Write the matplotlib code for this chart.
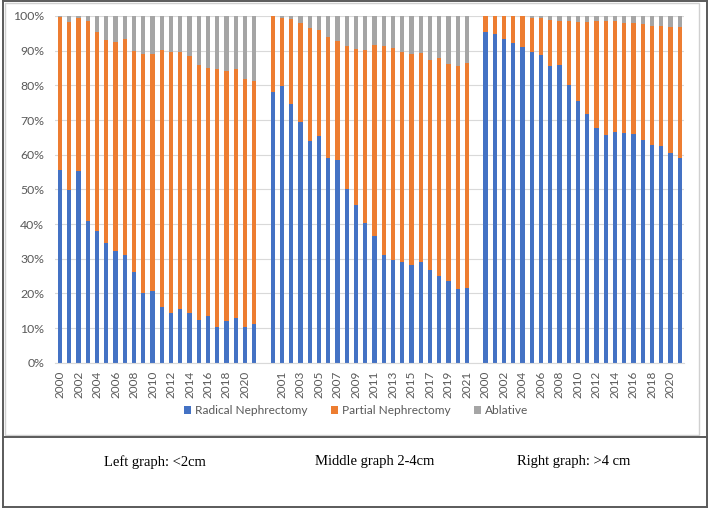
import matplotlib
matplotlib.use("Agg")
import matplotlib.pyplot as plt
from matplotlib.lines import Line2D
from matplotlib.patches import Rectangle
import numpy as np

years = [str(y) for y in range(2000, 2022)]

# left graph (<2cm)
left_radical = [55.6, 49.8, 55.3, 41.0, 37.9, 34.4, 32.2, 31.1, 26.3, 20.1, 20.6,
                16.2, 14.3, 15.6, 14.3, 12.2, 13.5, 10.2, 11.9, 12.8, 10.4, 11.1]
left_partial = [44.0, 48.5, 44.2, 57.5, 57.6, 58.8, 60.3, 62.3, 63.5, 68.9, 68.4,
                73.9, 75.4, 74.0, 74.2, 73.6, 71.5, 74.4, 72.1, 72.0, 71.4, 70.2]
left_ablative = [0.4, 1.7, 0.5, 1.5, 4.5, 6.8, 7.5, 6.6, 10.2, 11.0, 11.0,
                 9.9, 10.3, 10.4, 11.5, 14.2, 15.0, 15.4, 16.0, 15.2, 18.2, 18.7]

# middle graph (2-4cm)
mid_radical = [78.1, 79.8, 74.6, 69.4, 64.0, 65.3, 59.0, 58.5, 50.0, 45.6, 40.3,
               36.5, 31.1, 29.7, 29.0, 28.1, 29.0, 26.8, 25.1, 23.6, 21.4, 21.5]
mid_partial = [21.9, 19.5, 24.4, 28.5, 32.4, 30.7, 34.8, 34.4, 41.4, 44.8, 49.9,
               55.1, 60.2, 61.1, 60.7, 60.9, 60.2, 60.5, 62.8, 62.6, 64.3, 64.8]
mid_ablative = [0.0, 0.7, 1.0, 2.1, 3.6, 4.0, 6.2, 7.1, 8.6, 9.6, 9.8,
                8.4, 8.7, 9.2, 10.3, 11.0, 10.8, 12.7, 12.1, 13.8, 14.3, 13.7]

# right graph (>4cm)
right_radical = [95.3, 94.7, 93.3, 92.3, 91.0, 89.6, 88.7, 85.7, 85.9, 80.1, 75.6,
                 71.8, 67.8, 65.8, 66.5, 66.3, 65.9, 64.1, 62.8, 62.5, 60.5, 59.0]
right_partial = [4.7, 5.3, 6.7, 7.7, 9.0, 9.7, 10.6, 13.1, 12.6, 18.4, 22.6,
                 26.4, 30.9, 32.7, 32.0, 31.6, 32.0, 33.6, 34.4, 34.7, 36.2, 37.9]
right_ablative = [0.0, 0.0, 0.0, 0.0, 0.0, 0.7, 0.7, 1.2, 1.5, 1.5, 1.8,
                  1.8, 1.3, 1.5, 1.5, 2.1, 2.1, 2.3, 2.8, 2.8, 3.3, 3.1]

series_names = ["Radical Nephrectomy", "Partial Nephrectomy", "Ablative"]
colors = ["#4472C4", "#ED7D31", "#A5A5A5"]
captions = ["Left graph: <2cm", "Middle graph 2-4cm", "Right graph: >4 cm"]

# one empty category between the groups
categories = years + [""] + years + [""] + years
radical = np.array(left_radical + [0] + mid_radical + [0] + right_radical)
partial = np.array(left_partial + [0] + mid_partial + [0] + right_partial)
ablative = np.array(left_ablative + [0] + mid_ablative + [0] + right_ablative)

W, H = 709, 508
fig = plt.figure(figsize=(W / 100, H / 100), dpi=100)
plt.rcParams['font.family'] = ['Lato', 'DejaVu Sans']

def fx(px):
    return px / W

def fy(py):
    return 1 - py / H

ax = fig.add_axes([fx(55.4), fy(362.7), fx(684.3) - fx(55.4), fy(16) - fy(362.7)])
x = np.arange(len(categories))
bw = 0.46
ax.bar(x, radical, bw, color=colors[0], label=series_names[0], zorder=2)
ax.bar(x, partial, bw, bottom=radical, color=colors[1], label=series_names[1], zorder=2)
ax.bar(x, ablative, bw, bottom=radical + partial, color=colors[2], label=series_names[2], zorder=2)

ax.set_xlim(-0.5, len(categories) - 0.5)
ax.set_ylim(0, 100)
ax.set_yticks(np.arange(0, 101, 10))
ax.set_yticklabels([f"{v}%" for v in range(0, 101, 10)])
ax.set_xticks(x[::2])
ax.set_xticklabels(categories[::2], rotation=90)
ax.tick_params(axis='y', length=0, pad=8, labelsize=8.8, labelcolor="#595959")
ax.tick_params(axis='x', length=0, pad=6, labelsize=8.5, labelcolor="#595959")
ax.grid(axis='y', color="#D9D9D9", linewidth=0.8, zorder=0)
ax.set_axisbelow(True)
for s in ["top", "right", "left"]:
    ax.spines[s].set_visible(False)
ax.spines["bottom"].set_color("#D9D9D9")
ax.spines["bottom"].set_linewidth(0.8)

handles, labels = ax.get_legend_handles_labels()
fig.legend(handles, labels, loc="center", bbox_to_anchor=(fx(356), fy(411)), ncol=3,
           frameon=False, fontsize=8.6, labelcolor="#595959", handlelength=0.6,
           handleheight=0.6, handletextpad=0.3, columnspacing=2.0)

# frames: light chart border, dark outer border and separator
fig.add_artist(Rectangle((fx(5), fy(435)), fx(699) - fx(5), fy(3) - fy(435),
                         transform=fig.transFigure, fill=False, edgecolor="#D0D0D0", linewidth=1.0))
dark = "#5A5A5A"
fig.add_artist(Line2D([fx(2.5), fx(2.5)], [fy(1), fy(507)], color=dark, linewidth=1.4))
fig.add_artist(Line2D([fx(707), fx(707)], [fy(1), fy(507)], color=dark, linewidth=1.4))
fig.add_artist(Line2D([fx(2.5), fx(707)], [fy(1), fy(1)], color=dark, linewidth=1.4))
fig.add_artist(Line2D([fx(2.5), fx(707)], [fy(507), fy(507)], color=dark, linewidth=1.4))
fig.add_artist(Line2D([fx(2.5), fx(707)], [fy(437), fy(437)], color=dark, linewidth=1.4))

for cx, txt in zip([104, 315, 517], captions):
    fig.text(fx(cx), fy(462), txt, ha="left", va="center", fontsize=10.5,
             family="Liberation Serif", color="black")

fig.savefig("out.png", dpi=100)
